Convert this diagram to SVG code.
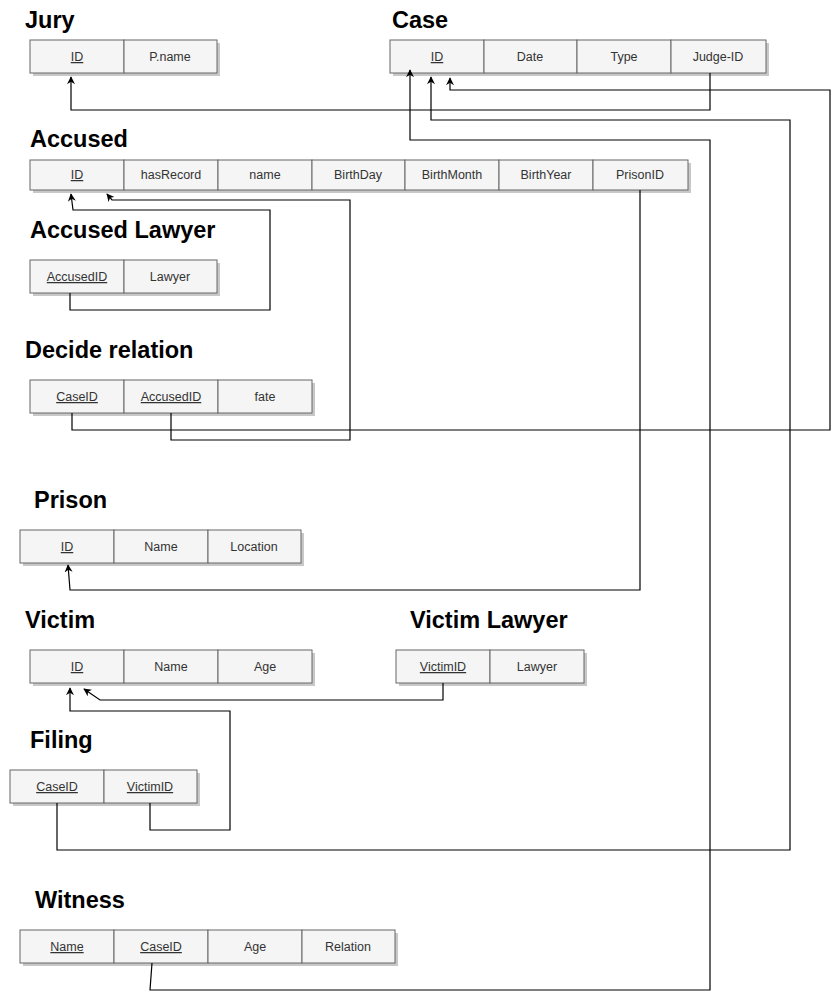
<svg xmlns="http://www.w3.org/2000/svg" width="840" height="1000" viewBox="0 0 840 1000">
<style>
.t{font-family:"Liberation Sans",Arial,sans-serif;font-weight:bold;font-size:23.5px;fill:#000}
.c{fill:#f5f5f5;stroke:#666;stroke-width:1}
.s{fill:#c8c8c8}
.f{font-family:"Liberation Sans",Arial,sans-serif;font-size:12.5px;fill:#333;text-anchor:middle}
.k{text-decoration:underline}
.e{fill:none;stroke:#000;stroke-width:1.2}
</style>
<defs>
<marker id="a" viewBox="0 0 10 10" refX="9" refY="5" markerWidth="8" markerHeight="8" orient="auto" markerUnits="userSpaceOnUse">
<path d="M0,0 L10,5 L0,10 L3,5 z" fill="#000"/>
</marker>
</defs>
<rect width="840" height="1000" fill="#fff"/>

<g id="jury">
<text class="t" x="25" y="28">Jury</text>
<rect class="s" x="33" y="43" width="187" height="33"/>
<rect class="c" x="30" y="40" width="94" height="33"/><rect class="c" x="124" y="40" width="93" height="33"/>
<text class="f k" x="77" y="61">ID</text><text class="f" x="170" y="61">P.name</text>
</g>

<g id="case">
<text class="t" x="392" y="28">Case</text>
<rect class="s" x="393" y="43" width="376" height="33"/>
<rect class="c" x="390" y="40" width="94" height="33"/><rect class="c" x="484" y="40" width="93" height="33"/><rect class="c" x="577" y="40" width="94" height="33"/><rect class="c" x="671" y="40" width="95" height="33"/>
<text class="f k" x="437" y="61">ID</text><text class="f" x="530" y="61">Date</text><text class="f" x="624" y="61">Type</text><text class="f" x="718" y="61">Judge-ID</text>
</g>

<g id="accused">
<text class="t" x="30" y="147">Accused</text>
<rect class="s" x="33" y="163" width="658" height="30"/>
<rect class="c" x="30" y="160" width="94" height="30"/><rect class="c" x="124" y="160" width="94" height="30"/><rect class="c" x="218" y="160" width="94" height="30"/><rect class="c" x="312" y="160" width="93" height="30"/><rect class="c" x="405" y="160" width="94" height="30"/><rect class="c" x="499" y="160" width="94" height="30"/><rect class="c" x="593" y="160" width="95" height="30"/>
<text class="f k" x="77" y="179">ID</text><text class="f" x="171" y="179">hasRecord</text><text class="f" x="265" y="179">name</text><text class="f" x="358" y="179">BirthDay</text><text class="f" x="452" y="179">BirthMonth</text><text class="f" x="546" y="179">BirthYear</text><text class="f" x="640" y="179">PrisonID</text>
</g>

<g id="accused-lawyer">
<text class="t" x="30" y="238">Accused Lawyer</text>
<rect class="s" x="33" y="263" width="187" height="33"/>
<rect class="c" x="30" y="260" width="94" height="33"/><rect class="c" x="124" y="260" width="93" height="33"/>
<text class="f k" x="77" y="281">AccusedID</text><text class="f" x="170" y="281">Lawyer</text>
</g>

<g id="decide">
<text class="t" x="25" y="358">Decide relation</text>
<rect class="s" x="33" y="383" width="282" height="33"/>
<rect class="c" x="30" y="380" width="94" height="33"/><rect class="c" x="124" y="380" width="94" height="33"/><rect class="c" x="218" y="380" width="94" height="33"/>
<text class="f k" x="77" y="401">CaseID</text><text class="f k" x="171" y="401">AccusedID</text><text class="f" x="265" y="401">fate</text>
</g>

<g id="prison">
<text class="t" x="34" y="508">Prison</text>
<rect class="s" x="23" y="533" width="281" height="33"/>
<rect class="c" x="20" y="530" width="94" height="33"/><rect class="c" x="114" y="530" width="94" height="33"/><rect class="c" x="208" y="530" width="93" height="33"/>
<text class="f k" x="67" y="551">ID</text><text class="f" x="161" y="551">Name</text><text class="f" x="254" y="551">Location</text>
</g>

<g id="victim">
<text class="t" x="25" y="628">Victim</text>
<rect class="s" x="33" y="653" width="282" height="33"/>
<rect class="c" x="30" y="650" width="94" height="33"/><rect class="c" x="124" y="650" width="94" height="33"/><rect class="c" x="218" y="650" width="94" height="33"/>
<text class="f k" x="77" y="671">ID</text><text class="f" x="171" y="671">Name</text><text class="f" x="265" y="671">Age</text>
</g>

<g id="victim-lawyer">
<text class="t" x="410" y="628">Victim Lawyer</text>
<rect class="s" x="399" y="653" width="188" height="33"/>
<rect class="c" x="396" y="650" width="94" height="33"/><rect class="c" x="490" y="650" width="94" height="33"/>
<text class="f k" x="443" y="671">VictimID</text><text class="f" x="537" y="671">Lawyer</text>
</g>

<g id="filing">
<text class="t" x="30" y="748">Filing</text>
<rect class="s" x="13" y="773" width="187" height="33"/>
<rect class="c" x="10" y="770" width="94" height="33"/><rect class="c" x="104" y="770" width="93" height="33"/>
<text class="f k" x="57" y="791">CaseID</text><text class="f k" x="150" y="791">VictimID</text>
</g>

<g id="witness">
<text class="t" x="35" y="908">Witness</text>
<rect class="s" x="23" y="933" width="375" height="33"/>
<rect class="c" x="20" y="930" width="94" height="33"/><rect class="c" x="114" y="930" width="94" height="33"/><rect class="c" x="208" y="930" width="94" height="33"/><rect class="c" x="302" y="930" width="93" height="33"/>
<text class="f k" x="67" y="951">Name</text><text class="f k" x="161" y="951">CaseID</text><text class="f" x="255" y="951">Age</text><text class="f" x="348" y="951">Relation</text>
</g>

<g id="connectors">
<path class="e" d="M710,73 V110 H71 V77" marker-end="url(#a)"/>
<path class="e" d="M72,413 V430 H830 V90 H450 V78" marker-end="url(#a)"/>
<path class="e" d="M57,803 V850 H790 V120 H431 V77" marker-end="url(#a)"/>
<path class="e" d="M152,963 L150,990 H710 V140 H410 V70" marker-end="url(#a)"/>
<path class="e" d="M70,293 V310 H270 V210 H73 L71,194" marker-end="url(#a)"/>
<path class="e" d="M171,413 V440 H350 V200 H112 L107,194" marker-end="url(#a)"/>
<path class="e" d="M640,190 V590 H70 L68,565" marker-end="url(#a)"/>
<path class="e" d="M443,683 V700 H100 L84,689" marker-end="url(#a)"/>
<path class="e" d="M150,803 V830 H230 V711 H70 V688" marker-end="url(#a)"/>
</g>
</svg>
